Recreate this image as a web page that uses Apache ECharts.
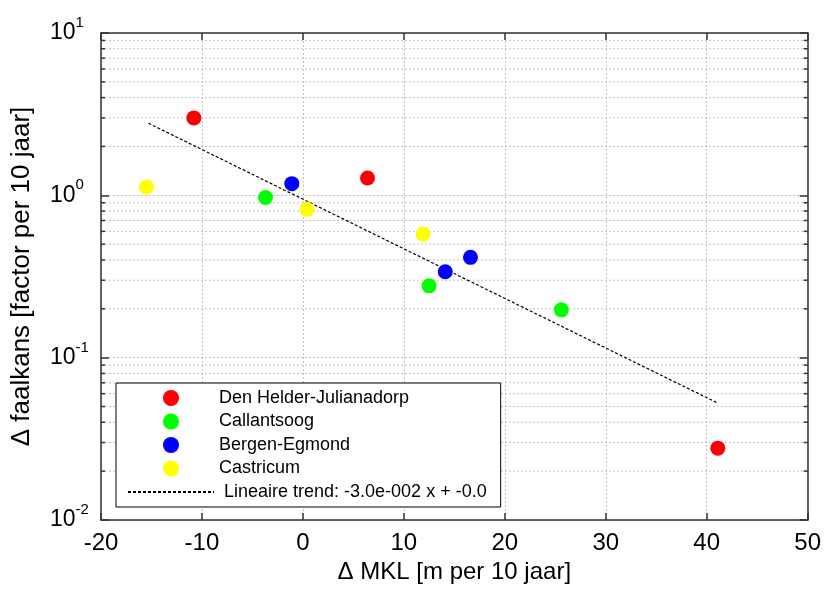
<!DOCTYPE html>
<html>
<head>
<meta charset="utf-8">
<script src="https://cdn.jsdelivr.net/npm/echarts@6/dist/echarts.min.js"></script>
<style>
html,body{margin:0;padding:0;background:#fff;}
#c{width:824px;height:589px;}
</style>
</head>
<body>
<div id="c"></div>
<script>
// ---- data ----
const seriesNames = ['Den Helder-Julianadorp', 'Callantsoog', 'Bergen-Egmond', 'Castricum'];
const dhX = [-10.8, 6.4, 41.1];
const dhY = [3.0, 1.28, 0.0277];
const callX = [-3.7, 12.5, 25.6];
const callY = [0.97, 0.277, 0.197];
const bergX = [-1.1, 14.1, 16.6];
const bergY = [1.18, 0.338, 0.415];
const castX = [-15.5, 0.4, 11.9];
const castY = [1.125, 0.82, 0.578];
const trendName = 'Lineaire trend: -3.0e-002 x + -0.0';
const trendX = [-15.3, 41.1];
const trendY = [2.78, 0.0525];
const xTicks = [-20, -10, 0, 10, 20, 30, 40, 50];
const yMajorTicks = [0.01, 0.1, 1, 10];
const yMinorTicks = [0.02,0.03,0.04,0.05,0.06,0.07,0.08,0.09,
                     0.2,0.3,0.4,0.5,0.6,0.7,0.8,0.9,
                     2,3,4,5,6,7,8,9];
const colors = ['#ff0000', '#00ff00', '#0000ff', '#ffff00'];

const zip = (xs, ys) => xs.map((x, i) => [x, ys[i]]);
const groups = [zip(dhX, dhY), zip(callX, callY), zip(bergX, bergY), zip(castX, castY)];

const FONT = 'Liberation Sans';
const xMin = xTicks[0], xMax = xTicks[xTicks.length - 1];
const yMin = yMajorTicks[0], yMax = yMajorTicks[yMajorTicks.length - 1];
const gridColor = '#c4c4c4';
const axisColor = '#333';

const chart = echarts.init(document.getElementById('c'), null, {renderer: 'canvas'});

const baseX = {
  type: 'value', min: xMin, max: xMax, interval: 10,
  axisLine: {show: true, onZero: false, lineStyle: {color: axisColor, width: 1.5}},
  axisTick: {show: true, inside: true, length: 7, lineStyle: {color: axisColor, width: 1.5}}
};
const baseY = {
  type: 'log', logBase: 10, min: yMin, max: yMax,
  axisLine: {show: true, onZero: false, lineStyle: {color: axisColor, width: 1.5}},
  axisTick: {show: true, inside: true, length: 8, lineStyle: {color: axisColor, width: 1.5}}
};

const option = {
  backgroundColor: '#fff',
  animation: false,
  grid: {left: 101, right: 16, top: 33, bottom: 69},
  xAxis: [
    Object.assign({}, baseX, {
      position: 'bottom',
      name: 'Δ MKL [m per 10 jaar]',
      nameLocation: 'middle', nameGap: 38,
      nameTextStyle: {fontFamily: FONT, fontSize: 24, color: '#000'},
      axisLabel: {show: true, margin: 11, fontFamily: FONT, fontSize: 24, color: '#000'},
      splitLine: {show: true, lineStyle: {color: gridColor, width: 1, type: [2, 2]}}
    }),
    Object.assign({}, baseX, {
      position: 'top',
      axisLabel: {show: false},
      splitLine: {show: false}
    })
  ],
  yAxis: [
    Object.assign({}, baseY, {
      position: 'left',
      name: 'Δ faalkans [factor per 10 jaar]',
      nameLocation: 'middle', nameGap: 66, nameRotate: 90,
      nameTextStyle: {fontFamily: FONT, fontSize: 26, color: '#000'},
      axisLabel: {
        show: true, align: 'left', margin: 51,
        showMinLabel: true, showMaxLabel: true,
        formatter: function (v) {
          const e = Math.round(Math.log10(v));
          return '{b|10}{s|' + e + '}';
        },
        rich: {
          b: {fontFamily: FONT, fontSize: 23, color: '#000'},
          s: {fontFamily: FONT, fontSize: 15, color: '#000', padding: [0, 0, 20, 0]}
        }
      },
      splitLine: {show: true, lineStyle: {color: gridColor, width: 1, type: [2, 2]}}
    }),
    Object.assign({}, baseY, {
      position: 'right',
      axisLabel: {show: false},
      splitLine: {show: false}
    })
  ],
  legend: {
    left: 116, top: 383, orient: 'vertical',
    itemWidth: 86, itemHeight: 16, itemGap: 3.5,
    padding: [5, 14, 5, 11],
    borderColor: '#000', borderWidth: 1, backgroundColor: '#fff',
    textStyle: {fontFamily: FONT, fontSize: 18, color: '#000', lineHeight: 20},
    data: seriesNames.map(n => ({name: n, icon: 'circle'})).concat([
      {name: trendName, textStyle: {padding: [0, 0, 0, 5]},
       itemStyle: {color: 'rgba(0,0,0,0)', borderWidth: 0, opacity: 0}}
    ])
  },
  series: [
    {
      type: 'custom', name: 'minor', z: 1, silent: true,
      xAxisIndex: 0, yAxisIndex: 0,
      data: yMinorTicks.map(v => [xMin, v]),
      renderItem: function (params, api) {
        const v = api.value(1);
        const p0 = api.coord([xMin, v]);
        const p1 = api.coord([xMax, v]);
        return {
          type: 'group',
          children: [
            {type: 'line', shape: {x1: p0[0], y1: p0[1], x2: p1[0], y2: p1[1]},
             style: {stroke: gridColor, lineWidth: 1, lineDash: [2, 2]}},
            {type: 'line', shape: {x1: p0[0], y1: p0[1], x2: p0[0] + 4, y2: p0[1]},
             style: {stroke: axisColor, lineWidth: 1.5}},
            {type: 'line', shape: {x1: p1[0] - 4, y1: p1[1], x2: p1[0], y2: p1[1]},
             style: {stroke: axisColor, lineWidth: 1.5}}
          ]
        };
      }
    },
    {
      type: 'line', name: trendName, data: zip(trendX, trendY),
      symbol: 'none', showSymbol: false, z: 3,
      lineStyle: {color: '#000', width: 1.2, type: [3, 2]},
      itemStyle: {color: '#000'}
    }
  ].concat(groups.map((g, i) => ({
    type: 'scatter', name: seriesNames[i], data: g,
    symbol: 'circle', symbolSize: 15, z: 4,
    itemStyle: {color: colors[i], opacity: 1}
  })))
};

chart.setOption(option);
</script>
</body>
</html>
